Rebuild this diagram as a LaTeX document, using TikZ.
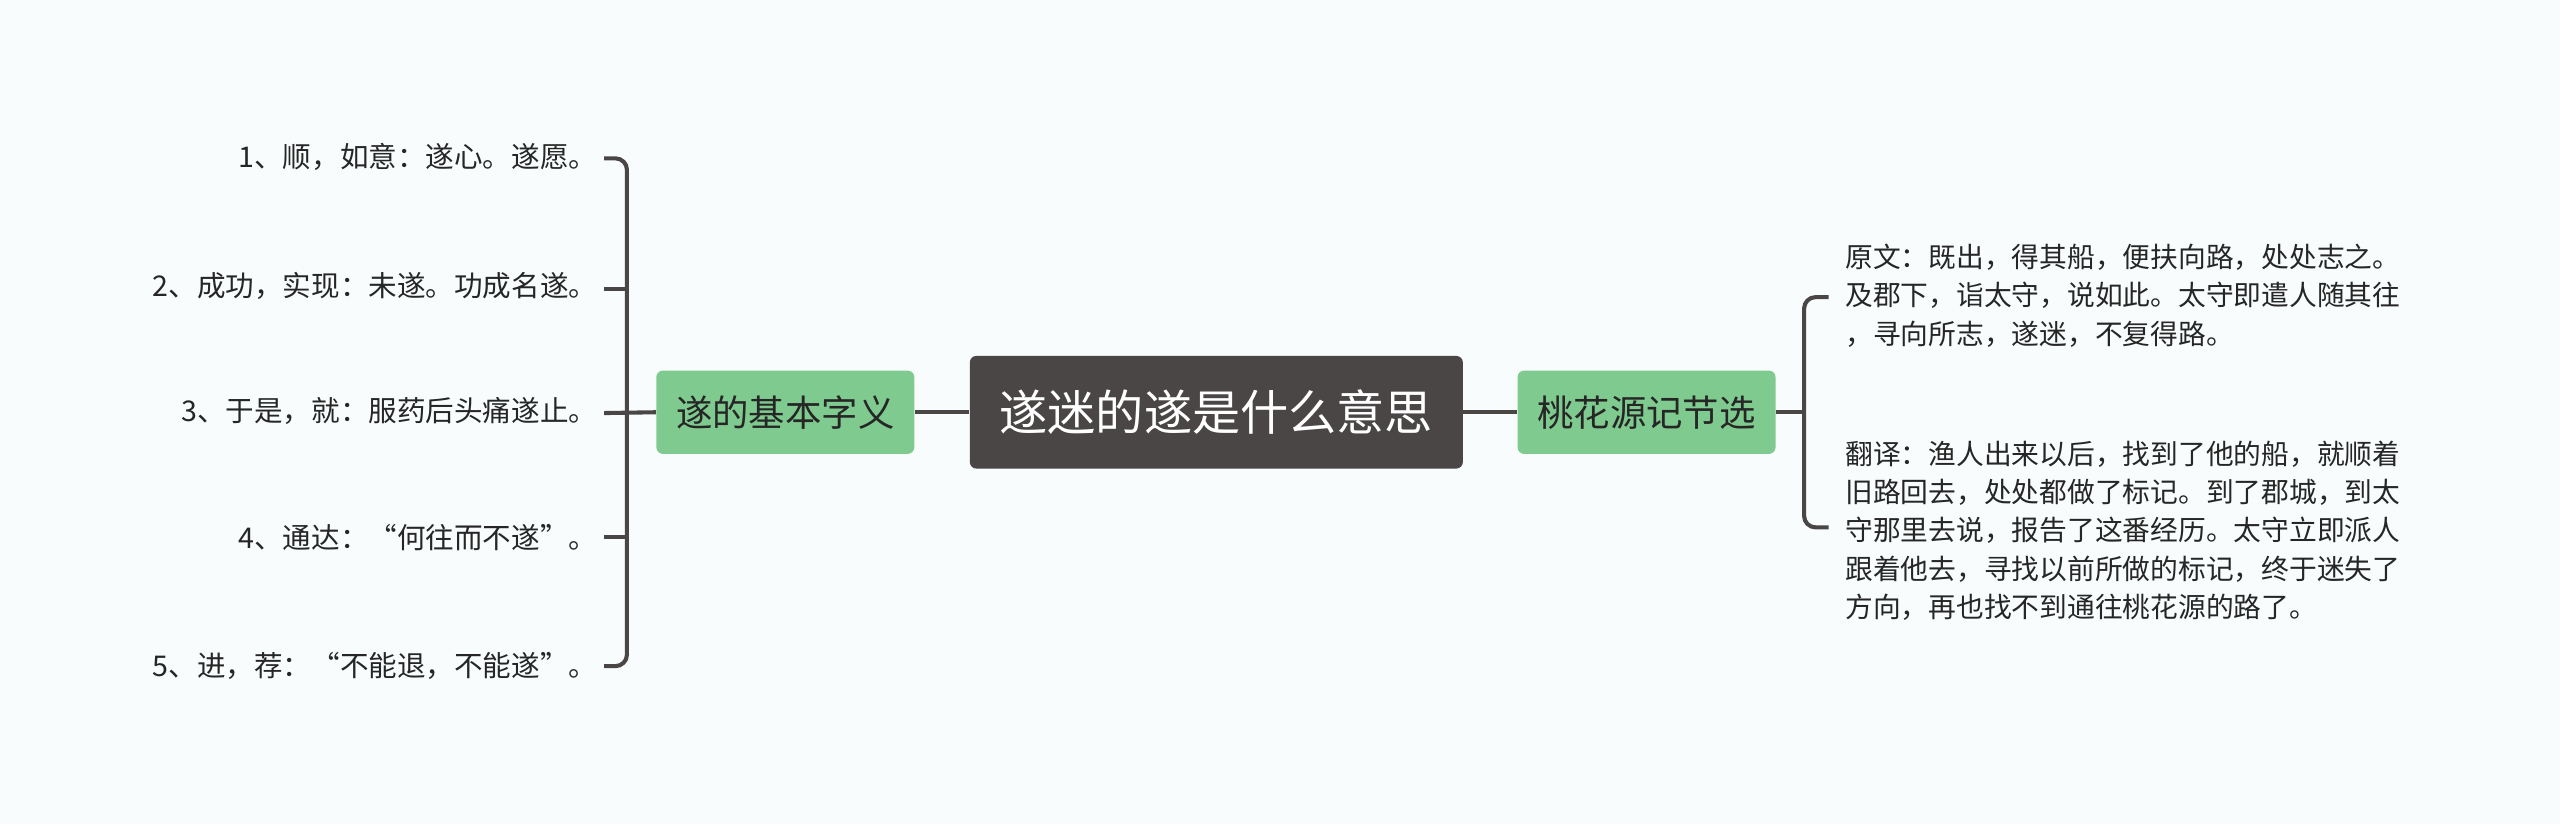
\documentclass[tikz,border=0pt]{standalone}
\usepackage{fontspec}
\setmainfont{Noto Sans CJK SC}
\usetikzlibrary{positioning}
\pgfdeclarelayer{paperlayer}
\pgfdeclarelayer{edgelayer}
\pgfdeclarelayer{nodelayer}
\pgfsetlayers{paperlayer,edgelayer,nodelayer,main}
\definecolor{darkbox}{HTML}{4A4646}
\definecolor{greenbox}{HTML}{7FCB8F}
\definecolor{paper}{HTML}{F8FCFC}
\tikzstyle{none}=[inner sep=0pt]
\tikzstyle{root_box}=[rounded corners=4, fill=darkbox, text=white, minimum width=302, minimum height=69, font=\fontsize{29.5}{32}\selectfont]
\tikzstyle{topic_box}=[rounded corners=4, fill=greenbox, text=black!85, minimum width=158, minimum height=51, font=\fontsize{22.3}{24}\selectfont]
\tikzstyle{leaf}=[inner sep=0pt, anchor=east, text=black!85, font=\fontsize{17.5}{19}\selectfont]
\tikzstyle{note}=[inner sep=0pt, anchor=west, align=left, text=black!85, font=\fontsize{17}{23.5}\selectfont]
\tikzstyle{branch}=[draw=darkbox, line width=2.5, rounded corners=7]

\begin{document}
\begin{tikzpicture}[x=1pt, y=-1pt]
	\begin{pgfonlayer}{paperlayer}
		\fill [paper] (0, 0) rectangle (1568, 505);
	\end{pgfonlayer}
	\useasboundingbox (0, 0) rectangle (1568, 505);
	\begin{pgfonlayer}{nodelayer}
		\node [style={root_box}] (0) at (745, 252.5) {遂迷的遂是什么意思};
		\node [style={topic_box}] (1) at (481, 252.5) {遂的基本字义};
		\node [style={topic_box}] (2) at (1008.5, 252.5) {桃花源记节选};
		\node [style=leaf] (3) at (366, 96) {1、顺，如意：遂心。遂愿。};
		\node [style=leaf] (4) at (366, 175) {2、成功，实现：未遂。功成名遂。};
		\node [style=leaf] (5) at (366, 252) {3、于是，就：服药后头痛遂止。};
		\node [style=leaf] (6) at (366, 329) {4、通达：“何往而不遂”。};
		\node [style=leaf] (7) at (366, 408) {5、进，荐：“不能退，不能遂”。};
		\node [style=note] (8) at (1130, 181) {原文：既出，得其船，便扶向路，处处志之。\\及郡下，诣太守，说如此。太守即遣人随其往\\，寻向所志，遂迷，不复得路。};
		\node [style=note] (9) at (1130, 325) {翻译：渔人出来以后，找到了他的船，就顺着\\旧路回去，处处都做了标记。到了郡城，到太\\守那里去说，报告了这番经历。太守立即派人\\跟着他去，寻找以前所做的标记，终于迷失了\\方向，再也找不到通往桃花源的路了。};
		\coordinate (10) at (370, 97);
		\coordinate (11) at (370, 177);
		\coordinate (12) at (370, 253);
		\coordinate (13) at (370, 329);
		\coordinate (14) at (370, 408);
		\coordinate (15) at (1120, 182);
		\coordinate (16) at (1120, 323);
	\end{pgfonlayer}
	\begin{pgfonlayer}{edgelayer}
		\draw [style=branch] (0) -- (1);
		\draw [style=branch] (0) -- (2);
		\draw [style=branch] (1.west) -- (12);
		\draw [style=branch] (10) -- (384, 97) -- (384, 408) -- (14);
		\draw [style=branch] (11) -- (384, 177);
		\draw [style=branch] (13) -- (384, 329);
		\draw [style=branch] (2.east) -- (1105, 252.5);
		\draw [style=branch] (15) -- (1105, 182) -- (1105, 323) -- (16);
	\end{pgfonlayer}
\end{tikzpicture}
\end{document}
